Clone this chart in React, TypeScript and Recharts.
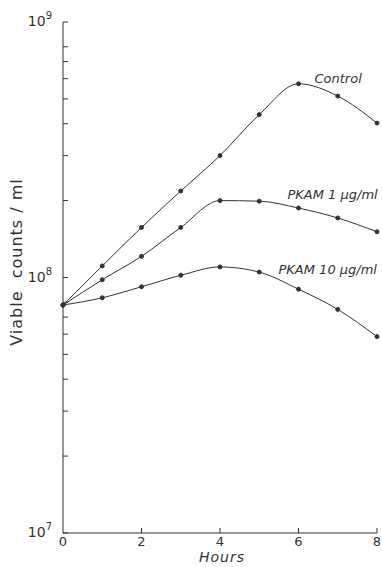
import React from "react";
import { LineChart, Line, XAxis, YAxis, LabelList } from "recharts";

const hours = [0, 1, 2, 3, 4, 5, 6, 7, 8];
const control = [7.8e7, 1.11e8, 1.57e8, 2.18e8, 3.0e8, 4.34e8, 5.73e8, 5.13e8, 4.02e8];
const pkam1 = [7.8e7, 9.8e7, 1.21e8, 1.57e8, 2.0e8, 1.99e8, 1.87e8, 1.71e8, 1.51e8];
const pkam10 = [7.8e7, 8.33e7, 9.2e7, 1.02e8, 1.1e8, 1.05e8, 9.0e7, 7.5e7, 5.87e7];

const xTicks = [0, 2, 4, 6, 8];
const yTicks = [
  1e7, 2e7, 3e7, 4e7, 5e7, 6e7, 7e7, 8e7,
  1e8, 2e8, 3e8, 4e8, 5e8, 6e8, 7e8, 8e8,
  1e9,
];

const data = hours.map((h, i) => ({
  h,
  control: control[i],
  pkam1: pkam1[i],
  pkam10: pkam10[i],
}));

const INK = "#333";
const FONT = "'DejaVu Sans', sans-serif";

function YTick(props: any) {
  const { x, y, payload } = props;
  const v = payload.value;
  const exp = Math.round(Math.log10(v));
  const major = Math.abs(Math.pow(10, exp) - v) < 1;
  return (
    <g>
      <line x1={x} y1={y} x2={x + 5} y2={y} stroke={INK} strokeWidth={1} />
      {major && (
        <text x={x - 11} y={y + 4} textAnchor="end" fill={INK} fontFamily={FONT} fontSize={14}>
          10
          <tspan dy={-7} fontSize={10}>
            {exp}
          </tspan>
        </text>
      )}
    </g>
  );
}

function XTick(props: any) {
  const { x, y, payload } = props;
  return (
    <g>
      {payload.value !== 0 && <line x1={x} y1={y} x2={x} y2={y - 5} stroke={INK} strokeWidth={1} />}
      <text x={x} y={y + 13} textAnchor="middle" fill={INK} fontFamily={FONT} fontSize={13}>
        {payload.value}
      </text>
    </g>
  );
}

function seriesLabel(text: string, idx: number, dx: number, dy: number) {
  return (props: any) => {
    if (props.index !== idx) return null;
    return (
      <text
        x={props.x + dx}
        y={props.y + dy}
        fill={INK}
        fontFamily={FONT}
        fontStyle="italic"
        fontSize={13}
      >
        {text}
      </text>
    );
  };
}

export default function App() {
  return (
    <div style={{ position: "absolute", left: 0, top: 0, width: 382, height: 567, background: "#fff" }}>
      <LineChart
        width={382}
        height={567}
        data={data}
        margin={{ top: 22, right: 5, bottom: 0, left: 0 }}
      >
        <XAxis
          dataKey="h"
          type="number"
          domain={[0, 8]}
          ticks={xTicks}
          tickSize={0}
          tickMargin={0}
          tick={<XTick />}
          stroke={INK}
          height={34}
        />
        <YAxis
          scale="log"
          type="number"
          domain={[1e7, 1e9]}
          ticks={yTicks}
          interval={0}
          allowDataOverflow
          tickSize={0}
          tickMargin={0}
          tick={<YTick />}
          stroke={INK}
          width={63}
        />
        <Line
          type="monotone"
          dataKey="control"
          stroke={INK}
          strokeWidth={1}
          dot={{ r: 2, fill: INK, stroke: INK }}
          isAnimationActive={false}
        >
          <LabelList content={seriesLabel("Control", 6, 16, -1)} />
        </Line>
        <Line
          type="monotone"
          dataKey="pkam1"
          stroke={INK}
          strokeWidth={1}
          dot={{ r: 2, fill: INK, stroke: INK }}
          isAnimationActive={false}
        >
          <LabelList content={seriesLabel("PKAM 1 µg/ml", 6, -11, -9)} />
        </Line>
        <Line
          type="monotone"
          dataKey="pkam10"
          stroke={INK}
          strokeWidth={1}
          dot={{ r: 2, fill: INK, stroke: INK }}
          isAnimationActive={false}
        >
          <LabelList content={seriesLabel("PKAM 10 µg/ml", 6, -20, -15)} />
        </Line>
        <text
          x={17}
          y={262}
          transform="rotate(-90 17 262)"
          textAnchor="middle"
          dominantBaseline="middle"
          fill={INK}
          fontFamily={FONT}
          fontSize={16}
          letterSpacing={1}
        >
          {"Viable\u00a0\u00a0counts / ml"}
        </text>
        <text x={222} y={562} textAnchor="middle" fill={INK} fontFamily={FONT} fontStyle="italic" fontSize={14} letterSpacing={1}>
          Hours
        </text>
      </LineChart>
    </div>
  );
}
